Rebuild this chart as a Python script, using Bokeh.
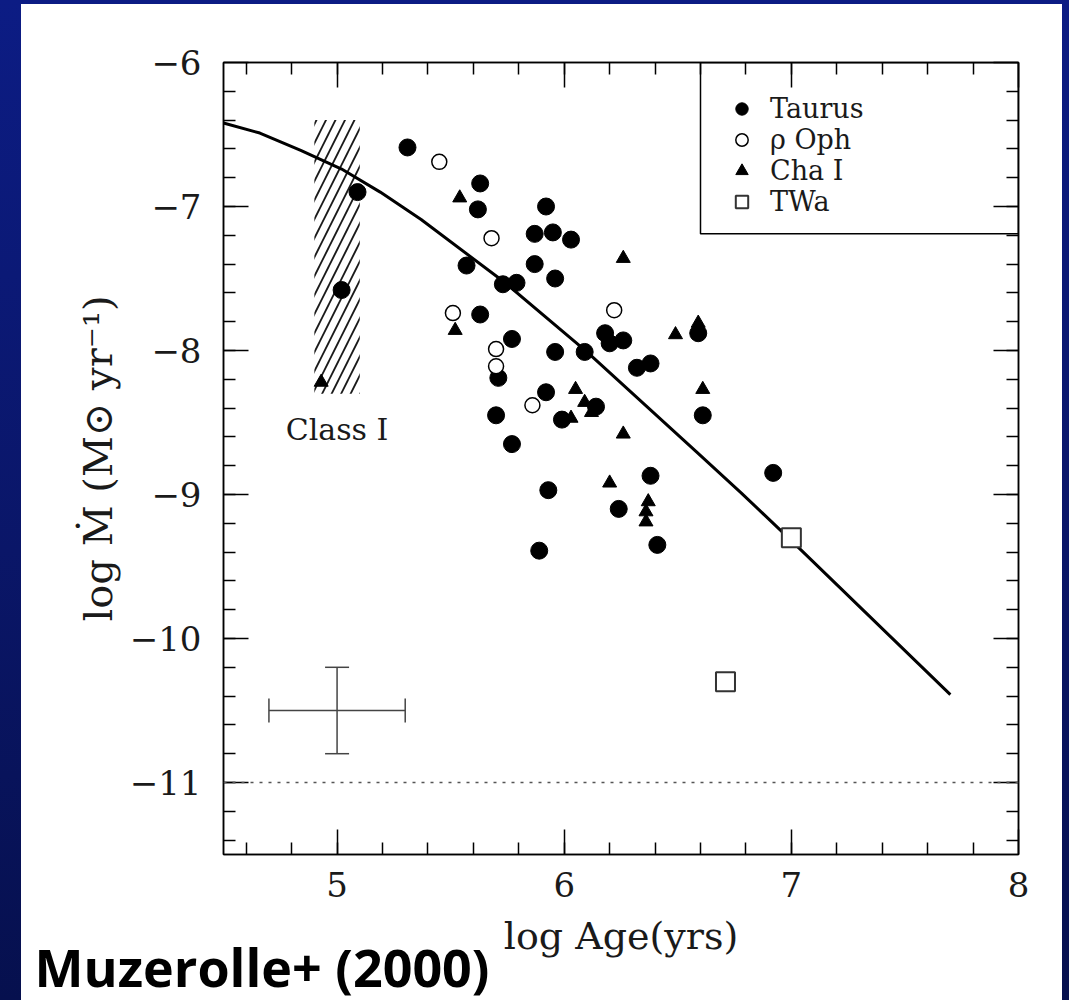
import numpy as np
from bokeh.plotting import figure
from bokeh.models import (LinearAxis, FixedTicker, Range1d, Span, BoxAnnotation, Label,
                          Legend, LegendItem, Whisker, ColumnDataSource, TeeHead,
                          CustomJSTickFormatter, Title)
from bokeh.embed import file_html
from bokeh.resources import INLINE

# --- accretion rates vs. stellar age (log yr, log Msun/yr) ---
taurus_age = [5.31, 5.63, 5.62, 5.92, 5.87, 5.95, 6.03, 5.57, 5.87, 5.96,
              5.73, 5.79, 5.63, 5.77, 5.96, 6.09, 6.18, 6.20, 6.26, 6.32,
              6.38, 6.59, 5.71, 5.92, 5.70, 5.99, 6.14, 6.61, 5.77, 5.93,
              6.38, 6.24, 6.92, 5.89, 6.41, 5.09, 5.02]
taurus_mdot = [-6.59, -6.84, -7.02, -7.00, -7.19, -7.18, -7.23, -7.41, -7.40, -7.50,
               -7.54, -7.53, -7.75, -7.92, -8.01, -8.01, -7.88, -7.95, -7.93, -8.12,
               -8.09, -7.88, -8.19, -8.29, -8.45, -8.48, -8.39, -8.45, -8.65, -8.97,
               -8.87, -9.10, -8.85, -9.39, -9.35, -6.90, -7.58]

oph_age = [5.45, 5.68, 5.51, 5.70, 5.70, 5.86, 6.22]
oph_mdot = [-6.69, -7.22, -7.74, -7.99, -8.11, -8.38, -7.72]

cha_age = [5.54, 6.26, 5.52, 6.49, 6.59, 6.61, 6.05, 6.09, 6.12, 6.03,
           6.26, 6.20, 6.37, 6.36, 6.36, 4.93]
cha_mdot = [-6.94, -7.36, -7.86, -7.89, -7.81, -8.27, -8.27, -8.36, -8.43, -8.47,
            -8.58, -8.92, -9.05, -9.12, -9.19, -8.22]

twa_age = [7.00, 6.71]
twa_mdot = [-9.30, -10.30]

# viscous disk evolution model
model_age = [4.50, 4.66, 4.84, 5.02, 5.19, 5.37, 5.74, 6.10, 6.58, 6.78, 7.00, 7.70]
model_mdot = [-6.42, -6.49, -6.61, -6.74, -6.90, -7.09, -7.53, -8.01, -8.70, -8.99, -9.32, -10.39]

# Class I age / accretion range
classI_age = [4.9, 5.1]
classI_mdot = [-8.3, -6.4]

# typical uncertainty
err_age, err_mdot = [5.0], [-10.5]
err_dage, err_dmdot = 0.3, 0.3

# detection limit
limit_mdot = -11.0

x_major = [5, 6, 7, 8]
y_major = [-11, -10, -9, -8, -7, -6]

SERIF = "DejaVu Serif"
INK = "#1a1a1a"

p = figure(width=1069, height=1000,
           x_range=Range1d(4.5, 8.0), y_range=Range1d(-11.5, -6.0),
           output_backend="svg", toolbar_location=None,
           min_border_left=223, min_border_right=51,
           min_border_top=62, min_border_bottom=146)
p.xgrid.visible = False
p.ygrid.visible = False
p.background_fill_color = "white"
p.border_fill_color = None
p.outline_line_color = "black"
p.outline_line_width = 1.5
p.styles = {
    "background": "linear-gradient(#ffffff, #ffffff) 21px 4px / 1041px 996px no-repeat, "
                  "linear-gradient(180deg, #0c1c84 0%, #0a1668 55%, #06104e 100%)"
}

x_minor = [round(v, 1) for v in np.arange(4.6, 8.0, 0.2)]
y_minor = [round(v, 1) for v in np.arange(-11.4, -6.0, 0.2)]

minus_fmt = CustomJSTickFormatter(code="""
    return (tick < 0 ? "\\u2212" : "") + Math.abs(tick).toFixed(0);
""")
blank_fmt = CustomJSTickFormatter(code="return '';")


def style_axis(ax, major, minor, show_labels):
    ax.ticker = FixedTicker(ticks=major, minor_ticks=minor)
    ax.major_tick_in = 25
    ax.major_tick_out = 0
    ax.minor_tick_in = 12
    ax.minor_tick_out = 0
    ax.axis_line_color = "black"
    ax.axis_line_width = 1.5
    ax.major_tick_line_color = "black"
    ax.minor_tick_line_color = "black"
    ax.major_tick_line_width = 1.5
    ax.minor_tick_line_width = 1.5
    if show_labels:
        ax.formatter = minus_fmt
        ax.major_label_text_font = SERIF
        ax.major_label_text_font_size = "34px"
        ax.major_label_text_color = INK
    else:
        ax.formatter = blank_fmt
        ax.major_label_standoff = 0


xb = p.xaxis[0]
yl = p.yaxis[0]
style_axis(xb, x_major, x_minor, True)
style_axis(yl, y_major, y_minor, True)
xb.major_label_standoff = 17
yl.major_label_standoff = 22

xb.axis_label = "log Age(yrs)"
xb.axis_label_text_font = SERIF
xb.axis_label_text_font_size = "38px"
xb.axis_label_text_font_style = "normal"
xb.axis_label_text_color = INK
xb.axis_label_standoff = 14

yl.axis_label = "log \u1E40 (M\u2299 yr\u207B\u00B9)"
yl.axis_label_text_font = SERIF
yl.axis_label_text_font_size = "40px"
yl.axis_label_text_font_style = "normal"
yl.axis_label_text_color = INK
yl.axis_label_standoff = 6

xt = LinearAxis()
yr = LinearAxis()
style_axis(xt, x_major, x_minor, False)
style_axis(yr, y_major, y_minor, False)
p.add_layout(xt, "above")
p.add_layout(yr, "right")

# Class I band
p.quad(left=[classI_age[0]], right=[classI_age[1]],
       bottom=[classI_mdot[0]], top=[classI_mdot[1]],
       fill_color=None, line_color=None,
       hatch_pattern="/", hatch_scale=19, hatch_weight=1.8, hatch_color="#1a1a1a")
p.add_layout(Label(x=np.mean(classI_age), y=-8.55, text="Class I",
                   text_align="center", text_baseline="middle",
                   text_font=SERIF, text_font_size="30px", text_color=INK))

# detection limit
p.add_layout(Span(location=limit_mdot, dimension="width", line_color="#555555",
                  line_width=1.5, line_dash="3 6"))

# model track
p.line(model_age, model_mdot, line_color="black", line_width=3)

# uncertainty cross
err_src = ColumnDataSource(dict(
    x=err_age, y=err_mdot,
    xlo=[v - err_dage for v in err_age], xhi=[v + err_dage for v in err_age],
    ylo=[v - err_dmdot for v in err_mdot], yhi=[v + err_dmdot for v in err_mdot],
))
for dim, base, lo, hi in (("width", "y", "xlo", "xhi"), ("height", "x", "ylo", "yhi")):
    p.add_layout(Whisker(source=err_src, base=base, lower=lo, upper=hi, dimension=dim,
                         line_color="#444444", line_width=1.5,
                         lower_head=TeeHead(size=24, line_color="#444444", line_width=1.5),
                         upper_head=TeeHead(size=24, line_color="#444444", line_width=1.5)))

# data
r_tau = p.scatter(taurus_age, taurus_mdot, marker="circle", size=17,
                  fill_color="black", line_color="black")
r_oph = p.scatter(oph_age, oph_mdot, marker="circle", size=15,
                  fill_color="white", line_color="black", line_width=1.5)
r_cha = p.scatter(cha_age, cha_mdot, marker="triangle", size=14,
                  fill_color="black", line_color="black")
r_twa = p.scatter(twa_age, twa_mdot, marker="square", size=19,
                  fill_color="white", line_color="#333333", line_width=2)

# legend box
p.add_layout(BoxAnnotation(left=6.6, bottom=-7.19, fill_color=None, fill_alpha=0,
                           line_color="black", line_alpha=1.0, line_width=1.5))
legend = Legend(items=[LegendItem(label="Taurus", renderers=[r_tau]),
                       LegendItem(label="\u03C1 Oph", renderers=[r_oph]),
                       LegendItem(label="Cha I", renderers=[r_cha]),
                       LegendItem(label="TWa", renderers=[r_twa])],
                location=(503, 637), padding=0, margin=0, spacing=0,
                glyph_width=31, glyph_height=31, label_standoff=13,
                border_line_color=None, background_fill_alpha=0,
                label_text_font=SERIF, label_text_font_size="27px",
                label_text_color=INK)
p.add_layout(legend)

# citation
p.add_layout(Title(text="Muzerolle+ (2000)", align="left", vertical_align="top",
                   offset=-189, standoff=-60,
                   text_font="Open Sans", text_font_style="bold",
                   text_font_size="52px", text_color="black"), "below")

open("out.html", "w").write(file_html(p, INLINE))
